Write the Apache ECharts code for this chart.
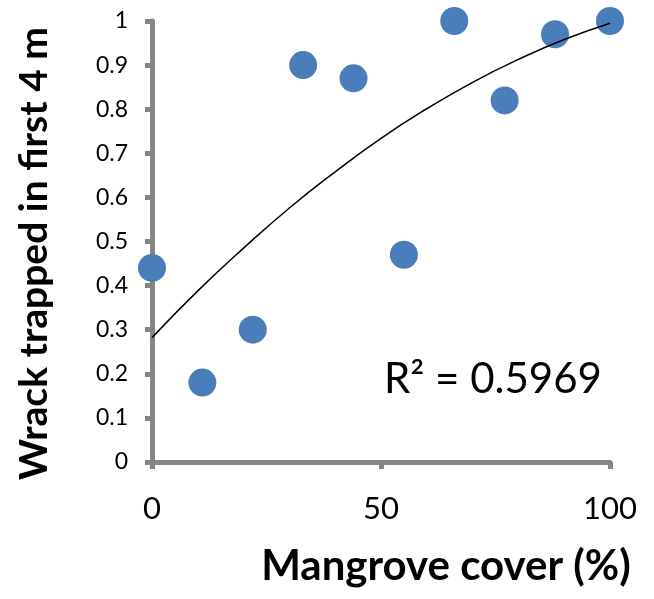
<!DOCTYPE html>
<html>
<head>
<meta charset="utf-8">
<script src="https://cdn.jsdelivr.net/npm/echarts@6/dist/echarts.min.js"></script>
<style>
  html, body { margin: 0; padding: 0; background: #fff; }
  #chart { width: 654px; height: 599px; }
</style>
</head>
<body>
<div id="chart"></div>
<script>
// mangrove cover (%) and share of wrack trapped in the first 4 m
const coverPct = [0, 11, 22, 33, 44, 55, 66, 77, 88, 100]
const wrackTrapped = [0.44, 0.18, 0.30, 0.90, 0.87, 0.47, 1.0, 0.82, 0.97, 1.0]

// trend line
const trendX = [0, 10, 20, 30, 40, 50, 60, 70, 80, 90, 100]
const trendY = [0.282, 0.388, 0.485, 0.576, 0.658, 0.734, 0.801, 0.861, 0.913, 0.958, 0.995]

const rSquaredLabel = 'R² = 0.5969'

const axisGrey = '#868686'
const font = 'Lato, "Noto Sans", sans-serif'

const myChart = echarts.init(document.getElementById('chart'))
const option = {
  animation: false,
  grid: {
    left: 152,
    right: 44,
    top: 21,
    bottom: 137,
  },
  xAxis: {
    type: 'value',
    min: 0,
    max: 100,
    interval: 50,
    name: 'Mangrove cover (%)',
    nameLocation: 'middle',
    nameGap: 83,
    nameTextStyle: {
      fontFamily: font,
      fontWeight: 'bold',
      fontSize: 42,
      color: '#000',
      padding: [0, 0, 0, 130],
    },
    axisLine: { lineStyle: { color: axisGrey, width: 5 } },
    axisTick: { length: 7, lineStyle: { color: axisGrey, width: 5 } },
    axisLabel: {
      margin: 31,
      fontFamily: font,
      fontSize: 31,
      color: '#000',
    },
    splitLine: { show: false },
  },
  yAxis: {
    type: 'value',
    min: 0,
    max: 1,
    interval: 0.1,
    name: 'Wrack trapped in first 4 m',
    nameLocation: 'middle',
    nameGap: 98,
    nameTextStyle: {
      fontFamily: font,
      fontWeight: 'bold',
      fontSize: 39,
      color: '#000',
      padding: [0, 24, 0, 0],
    },
    axisLine: { show: true, lineStyle: { color: axisGrey, width: 5 } },
    axisTick: { show: true, length: 7, lineStyle: { color: axisGrey, width: 5 } },
    axisLabel: {
      margin: 24,
      fontFamily: font,
      fontSize: 23,
      color: '#000',
    },
    splitLine: { show: false },
  },
  graphic: [
    {
      type: 'text',
      left: 384,
      top: 358,
      style: {
        text: rSquaredLabel,
        font: '42px ' + font,
        fill: '#000',
      },
    },
  ],
  series: [
    {
      type: 'scatter',
      symbolSize: 28,
      itemStyle: { color: '#4a7ebb', opacity: 1 },
      data: coverPct.map((x, i) => [x, wrackTrapped[i]]),
      z: 2,
    },
    {
      type: 'line',
      smooth: true,
      symbol: 'none',
      lineStyle: { color: '#000', width: 1.5 },
      data: trendX.map((x, i) => [x, trendY[i]]),
      z: 3,
    },
  ],
}
myChart.setOption(option)
</script>
</body>
</html>
